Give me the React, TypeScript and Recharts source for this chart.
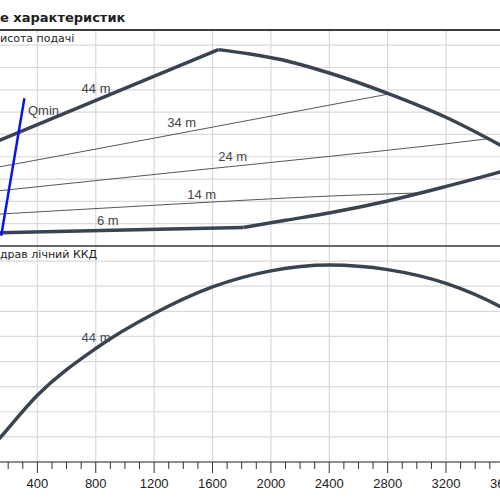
import React from 'react';
import { LineChart, Line, XAxis, YAxis, CartesianGrid, ReferenceDot, ReferenceLine } from 'recharts';

// flow axis (m³/h), shared by both panels
const majorTicks = [0, 400, 800, 1200, 1600, 2000, 2400, 2800, 3200, 3600];
const minorTicks = [
  0, 100, 200, 300, 400, 500, 600, 700, 800, 900, 1000, 1100, 1200, 1300, 1400, 1500, 1600, 1700, 1800,
  1900, 2000, 2100, 2200, 2300, 2400, 2500, 2600, 2700, 2800, 2900, 3000, 3100, 3200, 3300, 3400, 3500,
  3600, 3700,
];
const headTicks = [0, 5, 10, 15, 20, 25, 30, 35, 40, 45];
const effTicks = [0, 10, 20, 30, 40, 50, 60, 70, 80];

// head curves (m)
const head44Rise = [
  { q: 0, h: 21.8 },
  { q: 144, h: 23.7 },
  { q: 1640, h: 44.0 },
];
const head44Fall = [
  { q: 1640, h: 44.0 },
  { q: 1858, h: 43.0 },
  { q: 2130, h: 41.3 },
  { q: 2406, h: 38.7 },
  { q: 2800, h: 34.2 },
  { q: 3195, h: 28.9 },
  { q: 3572, h: 22.6 },
  { q: 3700, h: 20.3 },
];
const head34 = [
  { q: 0, h: 16.9 },
  { q: 144, h: 17.75 },
  { q: 1310, h: 24.85 },
  { q: 2406, h: 31.6 },
  { q: 2800, h: 34.0 },
];
const head24 = [
  { q: 0, h: 11.9 },
  { q: 144, h: 12.4 },
  { q: 1310, h: 16.4 },
  { q: 2406, h: 20.1 },
  { q: 3200, h: 22.9 },
  { q: 3481, h: 24.0 },
];
const head14 = [
  { q: 0, h: 6.9 },
  { q: 144, h: 7.16 },
  { q: 1310, h: 9.33 },
  { q: 2406, h: 11.2 },
  { q: 3023, h: 11.9 },
];
const head6Flat = [
  { q: 0, h: 2.85 },
  { q: 144, h: 2.98 },
  { q: 1310, h: 3.8 },
  { q: 1812, h: 4.15 },
];
const head6Rise = [
  { q: 1812, h: 4.15 },
  { q: 2100, h: 5.75 },
  { q: 2406, h: 7.45 },
  { q: 2800, h: 10.1 },
  { q: 3195, h: 13.3 },
  { q: 3572, h: 16.6 },
  { q: 3700, h: 17.8 },
];
const qmin = [
  { q: 152, h: 2.3 },
  { q: 311, h: 33.1 },
];
const headLabels = [
  { q: 802, h: 35.2, text: '44 m' },
  { q: 1389, h: 27.6, text: '34 m' },
  { q: 1738, h: 20.0, text: '24 m' },
  { q: 1526, h: 11.6, text: '14 m' },
  { q: 883, h: 5.65, text: '6 m' },
  { q: 442, h: 30.3, text: 'Qmin' },
];

// hydraulic efficiency (%)
const eff44 = [
  { q: 0, h: 0 },
  { q: 144, h: 9.6 },
  { q: 400, h: 26.6 },
  { q: 800, h: 45.2 },
  { q: 1200, h: 59.1 },
  { q: 1600, h: 69.7 },
  { q: 2000, h: 76.1 },
  { q: 2400, h: 78.4 },
  { q: 2800, h: 76.6 },
  { q: 3200, h: 71.1 },
  { q: 3572, h: 61.8 },
  { q: 3700, h: 57.5 },
];
const effLabels = [{ q: 802, h: 49.4, text: '44 m' }];

const THICK = '#3a4450';
const THIN = '#505861';
const GRID = '#d9d9d9';
const FONT = '"Liberation Sans", Arial, sans-serif';

// grid needs ticks to be "on", so render them as empty groups
const NoTick = () => <g />;

const QTick = (props: any) => {
  const { x, y, payload } = props;
  const major = payload.value % 400 === 0;
  return (
    <g>
      <line x1={x} x2={x} y1={y} y2={y + (major ? 11 : 7)} stroke="#333" />
      {major && payload.value > 0 && (
        <text x={x} y={y + 26} textAnchor="middle" fontSize={13} fontFamily={FONT} fill="#222">
          {payload.value}
        </text>
      )}
    </g>
  );
};

const labelShape = (text: string, fill: string) => (p: any) => (
  <text x={p.cx} y={p.cy} dy="0.35em" textAnchor="middle" fontSize={13} fontFamily={FONT} fill={fill}>
    {text}
  </text>
);

const lineProps = { dataKey: 'h', dot: false, activeDot: false, isAnimationActive: false } as const;

const vGrid = () =>
  majorTicks.map((q) => <ReferenceLine key={'g' + q} x={q} stroke={GRID} strokeWidth={1.2} />);

export default function App() {
  return (
    <div style={{ position: 'fixed', left: 0, top: 0, width: 500, height: 500, overflow: 'hidden', background: '#fff' }}>
      <div style={{ position: 'absolute', left: -21, top: 30 }}>
        <LineChart width={540} height={216} margin={{ top: 0, right: 0, bottom: 0, left: 0 }}>
          <CartesianGrid stroke={GRID} strokeWidth={1.2} vertical={false} />
          <XAxis
            type="number"
            dataKey="q"
            domain={[0, 3700]}
            ticks={majorTicks}
            interval={0}
            height={0}
            tick={false}
            tickLine={false}
            axisLine={false}
          />
          <YAxis
            type="number"
            domain={[0, 48.4]}
            ticks={headTicks}
            interval={0}
            width={0}
            tick={<NoTick />}
            tickLine={false}
            axisLine={false}
          />
          {vGrid()}
          <Line {...lineProps} data={head34} type="monotone" stroke={THIN} strokeWidth={1} />
          <Line {...lineProps} data={head24} type="monotone" stroke={THIN} strokeWidth={1} />
          <Line {...lineProps} data={head14} type="monotone" stroke={THIN} strokeWidth={1} />
          <Line {...lineProps} data={head44Rise} type="linear" stroke={THICK} strokeWidth={3.5} />
          <Line {...lineProps} data={head44Fall} type="monotone" stroke={THICK} strokeWidth={3.5} />
          <Line {...lineProps} data={head6Flat} type="linear" stroke={THICK} strokeWidth={3.5} />
          <Line {...lineProps} data={head6Rise} type="monotone" stroke={THICK} strokeWidth={3.5} />
          <Line {...lineProps} data={qmin} type="linear" stroke="#0a14f0" strokeWidth={2.5} />
          {headLabels.map((l) => (
            <ReferenceDot key={l.text} x={l.q} y={l.h} r={0} shape={labelShape(l.text, '#444')} />
          ))}
        </LineChart>
      </div>
      <div style={{ position: 'absolute', left: -21, top: 246 }}>
        <LineChart width={540} height={254} margin={{ top: 0, right: 0, bottom: 0, left: 0 }}>
          <CartesianGrid stroke={GRID} strokeWidth={1.2} vertical={false} />
          <XAxis
            type="number"
            dataKey="q"
            domain={[0, 3700]}
            ticks={minorTicks}
            interval={0}
            height={38}
            tickSize={0}
            tickMargin={0}
            tickLine={false}
            tick={<QTick />}
            axisLine={{ stroke: '#333' }}
          />
          <YAxis
            type="number"
            domain={[0, 86]}
            ticks={effTicks}
            interval={0}
            width={0}
            tick={<NoTick />}
            tickLine={false}
            axisLine={false}
          />
          {vGrid()}
          <Line {...lineProps} data={eff44} type="monotone" stroke={THICK} strokeWidth={3.5} />
          {effLabels.map((l) => (
            <ReferenceDot key={l.text} x={l.q} y={l.h} r={0} shape={labelShape(l.text, '#3d4c5a')} />
          ))}
        </LineChart>
      </div>
      <svg width={500} height={500} style={{ position: 'absolute', left: 0, top: 0, pointerEvents: 'none' }}>
        <text x={0} y={21.7} fontFamily='"DejaVu Sans", sans-serif' fontWeight="bold" fontSize={13} fill="#1e1e1e">
          е характеристик
        </text>
        <line x1={0} x2={500} y1={30} y2={30} stroke="#3c3c3c" strokeWidth={2} />
        <line x1={0} x2={500} y1={246} y2={246} stroke="#3c3c3c" strokeWidth={1.5} />
        <text x={0} y={41.7} fontFamily='"DejaVu Sans", sans-serif' fontSize={11} fill="#222">
          исота подачі
        </text>
        <text x={0} y={258.3} fontFamily='"DejaVu Sans", sans-serif' fontSize={11} fill="#222">
          драв лічний ККД
        </text>
      </svg>
    </div>
  );
}
